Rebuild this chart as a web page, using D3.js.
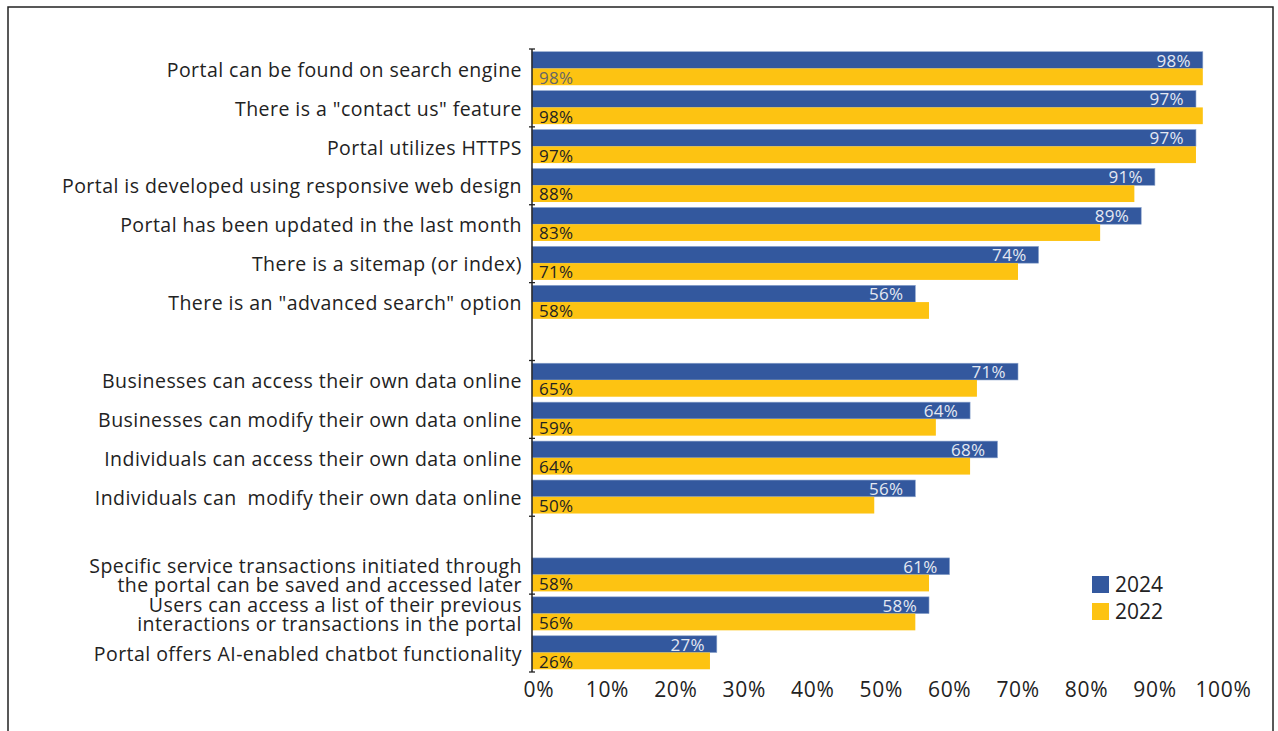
<!DOCTYPE html>
<html lang="en">
<head>
<meta charset="UTF-8">
<title>Portal features 2024 vs 2022</title>
<script src="https://d3js.org/d3.v7.min.js"></script>
<style>
  body { margin: 0; background: #fff; }
  text { font-family: "Open Sans", "Noto Sans", sans-serif; }
</style>
</head>
<body>
<script>

// categories, top to bottom ("" = spacer row between groups)
var categories = [
    "Portal can be found on search engine",
    "There is a \"contact us\" feature",
    "Portal utilizes HTTPS",
    "Portal is developed using responsive web design",
    "Portal has been updated in the last month",
    "There is a sitemap (or index)",
    "There is an \"advanced search\" option",
    "",
    "Businesses can access their own data online",
    "Businesses can modify their own data online",
    "Individuals can access their own data online",
    "Individuals can  modify their own data online",
    "",
    "Specific service transactions initiated through|the portal can be saved and accessed later",
    "Users can access a list of their previous|interactions or transactions in the portal",
    "Portal offers AI-enabled chatbot functionality"
];

var values2024 = [98, 97, 97, 91, 89, 74, 56, null, 71, 64, 68, 56, null, 61, 58, 27];
var values2022 = [98, 98, 97, 88, 83, 71, 58, null, 65, 59, 64, 50, null, 58, 56, 26];

var xTicks = [0, 10, 20, 30, 40, 50, 60, 70, 80, 90, 100];
var seriesNames = ["2024", "2022"];

var width = 1278,
    height = 731;

var blue = "#33589e",
    yellow = "#fdc312";

var svg = d3.select("body").append("svg")
    .attr("width", width)
    .attr("height", height);

// outer frame
svg.append("rect")
    .attr("x", 8).attr("y", 7)
    .attr("width", 1265).attr("height", 740)
    .attr("fill", "none")
    .attr("stroke", "#222")
    .attr("stroke-width", 1.5);

var x = d3.scaleLinear().domain([0, 100]).range([532, 1216.5]);

var y = d3.scaleBand()
    .domain(d3.range(categories.length))
    .range([49, 672])
    .paddingInner(0.14)
    .paddingOuter(0.07);

var half = y.bandwidth() / 2;

var rows = categories.map(function(c, i) {
    return {label: c, i: i, v24: values2024[i], v22: values2022[i]};
});
var dataRows = rows.filter(function(d) { return d.v24 != null; });

// 2024 bars
svg.append("g").selectAll("rect")
    .data(dataRows)
    .join("rect")
    .attr("x", x(0))
    .attr("y", function(d) { return y(d.i); })
    .attr("width", function(d) { return x(d.v24) - x(0); })
    .attr("height", half)
    .attr("fill", blue)
    .attr("stroke", "#8aa3cc")
    .attr("stroke-width", 0.6);

// 2022 bars
svg.append("g").selectAll("rect")
    .data(dataRows)
    .join("rect")
    .attr("x", x(0))
    .attr("y", function(d) { return y(d.i) + half; })
    .attr("width", function(d) { return x(d.v22) - x(0); })
    .attr("height", half)
    .attr("fill", yellow);

// value labels
svg.append("g").selectAll("text")
    .data(dataRows)
    .join("text")
    .attr("x", function(d) { return x(d.v24) - 12; })
    .attr("y", function(d) { return y(d.i) + half / 2; })
    .attr("dy", "0.38em")
    .attr("text-anchor", "end")
    .attr("fill", "#e4e8f2")
    .style("font-size", "17px")
    .style("letter-spacing", "0.3px")
    .text(function(d) { return d.v24 + "%"; });

svg.append("g").selectAll("text")
    .data(dataRows)
    .join("text")
    .attr("x", x(0) + 7)
    .attr("y", function(d) { return y(d.i) + half * 1.5; })
    .attr("dy", "0.4em")
    .attr("fill", function(d, i) { return i === 0 ? "#666" : "#222"; })
    .style("font-size", "17px")
    .style("letter-spacing", "0.3px")
    .text(function(d) { return d.v22 + "%"; });

// category labels
var labels = svg.append("g").selectAll("text")
    .data(dataRows)
    .join("text")
    .attr("text-anchor", "end")
    .attr("fill", "#222")
    .style("font-size", "19.5px")
    .style("letter-spacing", "0.45px")
    .attr("transform", function(d) {
        return "translate(522," + (y(d.i) + half) + ")";
    });

labels.each(function(d) {
    var lines = d.label.split("|");
    var t = d3.select(this);
    lines.forEach(function(line, k) {
        t.append("tspan")
            .attr("x", 0)
            .attr("y", (k - (lines.length - 1) / 2) * 19)
            .attr("dy", "0.42em")
            .style("white-space", "pre")
            .text(line);
    });
});

// category axis with a tick every second row
var axisG = svg.append("g");
axisG.append("line")
    .attr("x1", x(0)).attr("x2", x(0))
    .attr("y1", 49).attr("y2", 672)
    .attr("stroke", "#222").attr("stroke-width", 1.5);

var tickYs = d3.range(0, categories.length + 1, 2).map(function(k) {
    return 49 + k * y.step();
});
axisG.selectAll(".tk")
    .data(tickYs)
    .join("line")
    .attr("x1", x(0) - 3).attr("x2", x(0) + 3)
    .attr("y1", function(d) { return d; })
    .attr("y2", function(d) { return d; })
    .attr("stroke", "#222").attr("stroke-width", 1.3);

// value axis labels
svg.append("g").selectAll("text")
    .data(xTicks)
    .join("text")
    .attr("x", function(d) { return x(d) + 7; })
    .attr("y", 697)
    .attr("text-anchor", "middle")
    .attr("fill", "#222")
    .style("font-size", "21px")
    .style("letter-spacing", "0.7px")
    .text(function(d) { return d + "%"; });

// legend
var legend = svg.append("g").attr("transform", "translate(1092,576)");
legend.selectAll("rect")
    .data(seriesNames)
    .join("rect")
    .attr("x", 0)
    .attr("y", function(d, i) { return i * 27; })
    .attr("width", 17).attr("height", 17)
    .attr("fill", function(d, i) { return i === 0 ? blue : yellow; });
legend.selectAll("text")
    .data(seriesNames)
    .join("text")
    .attr("x", 23)
    .attr("y", function(d, i) { return i * 27 + 8.5; })
    .attr("dy", "0.38em")
    .attr("fill", "#222")
    .style("font-size", "21px")
    .text(function(d) { return d; });

</script>
</body>
</html>
